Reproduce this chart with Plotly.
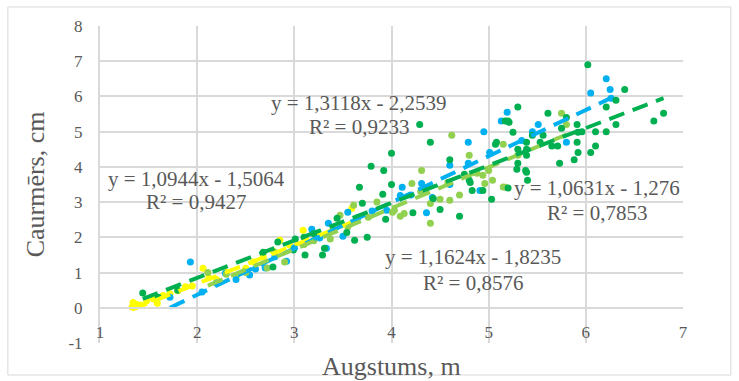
import plotly.graph_objects as go

# ---------------- data ----------------
yellow_x = [1.33, 1.34, 1.37, 1.42, 1.48, 1.55, 1.59, 1.65, 1.72, 1.80, 1.88, 1.95, 2.06, 2.12, 2.20,
            2.30, 2.41, 2.50, 2.58, 2.68, 2.78, 2.85, 2.95, 3.09, 3.25, 3.40, 3.59]
yellow_y = [0.02, 0.15, 0.10, 0.08, 0.20, 0.25, 0.13, 0.35, 0.40, 0.48, 0.60, 0.62, 1.12, 0.85, 0.80,
            1.00, 0.93, 1.12, 1.30, 1.45, 1.62, 1.92, 1.78, 2.20, 2.05, 2.25, 2.82]

blue_x = [1.72, 1.93, 2.05, 2.20, 2.29, 2.40, 2.54, 2.60, 2.70, 2.80, 2.92, 3.00, 3.18, 3.26, 3.33,
          3.35, 3.50, 3.55, 3.65, 3.80, 3.95, 4.09, 4.11, 4.20, 4.31, 4.36, 4.42, 4.60, 4.60, 4.79,
          4.79, 4.91, 4.95, 5.01, 5.13, 5.19, 5.34, 5.45, 5.51, 5.80, 6.05, 6.21, 6.25, 6.26]
blue_y = [0.30, 1.30, 0.45, 0.70, 0.98, 0.80, 0.93, 1.10, 1.13, 1.45, 1.32, 1.70, 2.23, 1.98, 1.69,
          2.40, 2.03, 2.71, 2.55, 2.75, 2.77, 3.19, 3.42, 3.20, 3.53, 2.70, 3.13, 3.50, 4.05, 4.10,
          4.70, 3.33, 5.00, 4.41, 5.30, 5.55, 4.75, 5.00, 5.20, 4.70, 6.10, 6.50, 6.20, 5.95]

lgreen_x = [2.11, 2.30, 2.50, 2.72, 2.80, 2.90, 3.10, 3.20, 3.37, 3.47, 3.55, 3.61, 3.76, 3.85, 4.01,
            4.03, 4.09, 4.13, 4.21, 4.30, 4.31, 4.40, 4.40, 4.50, 4.58, 4.60, 4.62, 4.70, 4.80, 4.88,
            4.94, 4.96, 5.00, 5.04, 5.15, 5.15, 5.17, 5.30, 5.75, 5.80]
lgreen_y = [1.00, 0.95, 1.00, 1.13, 1.58, 1.30, 1.80, 1.90, 1.95, 2.63, 2.30, 2.91, 2.57, 3.00, 2.71,
            2.77, 2.60, 2.68, 3.53, 3.30, 3.90, 2.96, 2.40, 3.08, 3.56, 3.05, 4.90, 3.20, 4.33, 3.82,
            3.76, 3.53, 3.90, 3.62, 3.43, 4.64, 3.42, 4.33, 5.52, 5.20]

dgreen_x = [1.44, 1.60, 1.80, 2.68, 2.78, 2.83, 2.99, 3.01, 3.10, 3.11, 3.20, 3.29, 3.31, 3.40, 3.44,
            3.54, 3.62, 3.67, 3.70, 3.75, 3.79, 3.91, 3.92, 3.94, 4.00, 4.00, 4.22, 4.29, 4.40, 4.43,
            4.50, 4.60, 4.70, 4.75, 4.80, 4.81, 4.83, 4.94, 5.03, 5.07, 5.08, 5.17, 5.20, 5.21, 5.25,
            5.29, 5.30, 5.30, 5.30, 5.38, 5.39, 5.39, 5.39, 5.39, 5.40, 5.45, 5.53, 5.56, 5.61, 5.65,
            5.71, 5.73, 5.75, 5.80, 5.88, 5.91, 5.91, 5.92, 5.92, 5.96, 6.02, 6.05, 6.10, 6.10, 6.21,
            6.21, 6.31, 6.31, 6.40, 6.70, 6.80, 5.20]
dgreen_y = [0.42, 0.30, 0.50, 1.58, 1.16, 1.87, 1.64, 1.95, 2.00, 1.50, 2.10, 1.50, 1.69, 2.20, 2.54,
            2.14, 1.92, 3.42, 2.97, 2.00, 4.02, 3.22, 3.90, 2.51, 3.50, 4.39, 2.70, 5.20, 4.70, 3.10,
            2.79, 4.20, 2.60, 3.79, 3.62, 3.56, 3.33, 3.33, 3.08, 4.64, 4.70, 5.30, 3.40, 5.27, 4.98,
            3.93, 4.10, 4.50, 5.70, 3.90, 4.33, 3.85, 4.70, 4.50, 3.62, 4.90, 4.70, 4.90, 5.52, 4.59,
            4.59, 4.10, 5.10, 5.40, 4.20, 5.20, 4.70, 4.41, 4.98, 5.00, 6.90, 4.41, 5.00, 4.59, 5.70,
            5.00, 5.89, 5.20, 6.20, 5.30, 5.52, 5.30]

series_names = ["yellow", "blue", "lightgreen", "darkgreen"]
slopes = [1.0944, 1.3118, 1.1624, 1.0631]
intercepts = [-1.5064, -2.2539, -1.8235, -1.276]
r2_values = ["0,9427", "0,9233", "0,8576", "0,7853"]
eq_texts = ["y = 1,0944x - 1,5064", "y = 1,3118x - 2,2539", "y = 1,1624x - 1,8235", "y = 1,0631x - 1,276"]

x_ticks = [1, 2, 3, 4, 5, 6, 7]
x_ticktext = ["1", "2", "3", "4", "5", "6", "7"]
y_ticks = [-1, 0, 1, 2, 3, 4, 5, 6, 7, 8]
y_ticktext = ["-1", "0", "1", "2", "3", "4", "5", "6", "7", "8"]

# ---------------- style ----------------
colors = ["#FFFF00", "#00B0F0", "#92D050", "#00B050"]
xs = [yellow_x, blue_x, lgreen_x, dgreen_x]
ys = [yellow_y, blue_y, lgreen_y, dgreen_y]
# label centre positions (data units): equation line and R² line
label_pos = [(1.99, 3.65, 3.00), (3.67, 5.81, 5.13), (4.84, 1.44, 0.70), (6.12, 3.39, 2.69)]

FONT = "Liberation Serif"
GRAY = "#595959"
GRID = "#D9D9D9"

fig = go.Figure()
for name, c, x, y in zip(series_names, colors, xs, ys):
    fig.add_trace(go.Scatter(x=x, y=y, mode="markers", name=name,
                             marker=dict(color=c, size=7, line=dict(width=0)),
                             showlegend=False, hoverinfo="skip"))

for name, c, x, m, b in zip(series_names, colors, xs, slopes, intercepts):
    x0, x1 = min(x), max(x)
    fig.add_trace(go.Scatter(x=[x0, x1], y=[m * x0 + b, m * x1 + b], mode="lines",
                             line=dict(color=c, width=4, dash="16px,9px"),
                             showlegend=False, hoverinfo="skip"))

annotations = []
for (cx, ye, yr), eq, r2 in zip(label_pos, eq_texts, r2_values):
    annotations.append(dict(x=cx, y=ye, xref="x", yref="y", text=eq, showarrow=False,
                            font=dict(family=FONT, size=21, color=GRAY)))
    annotations.append(dict(x=cx, y=yr, xref="x", yref="y", text="R² = " + r2, showarrow=False,
                            font=dict(family=FONT, size=21, color=GRAY)))

annotations.append(dict(x=0.5, y=-0.075, xref="paper", yref="paper", text="Augstums, m",
                        showarrow=False, yanchor="middle",
                        font=dict(family=FONT, size=26, color=GRAY)))
annotations.append(dict(x=-0.11, y=0.5, xref="paper", yref="paper", text="Caurmērs, cm",
                        showarrow=False, textangle=-90, xanchor="center",
                        font=dict(family=FONT, size=26, color=GRAY)))

fig.update_layout(
    width=739, height=381,
    margin=dict(l=100, r=56, t=26, b=38),
    paper_bgcolor="white", plot_bgcolor="white",
    font=dict(family=FONT, color=GRAY),
    annotations=annotations,
    shapes=[dict(type="rect", xref="paper", yref="paper",
                 x0=-0.158, x1=1.082, y0=-0.101, y1=1.060,
                 line=dict(color=GRID, width=1), fillcolor="rgba(0,0,0,0)", layer="below")],
    xaxis=dict(range=[1, 7], tickvals=x_ticks, ticktext=x_ticktext,
               showgrid=True, gridcolor=GRID, gridwidth=2,
               zeroline=False, showline=True, linecolor=GRID, linewidth=2,
               anchor="free", position=1 / 9,
               ticks="outside", ticklen=9, tickcolor="rgba(0,0,0,0)",
               tickfont=dict(family=FONT, size=17, color=GRAY)),
    yaxis=dict(range=[-1, 8], tickvals=y_ticks, ticktext=y_ticktext,
               showgrid=True, gridcolor=GRID, gridwidth=2,
               zeroline=False, showline=True, linecolor=GRID, linewidth=2,
               ticks="outside", ticklen=12, tickcolor="rgba(0,0,0,0)",
               tickfont=dict(family=FONT, size=17, color=GRAY)),
)

fig.write_html("out.html")
